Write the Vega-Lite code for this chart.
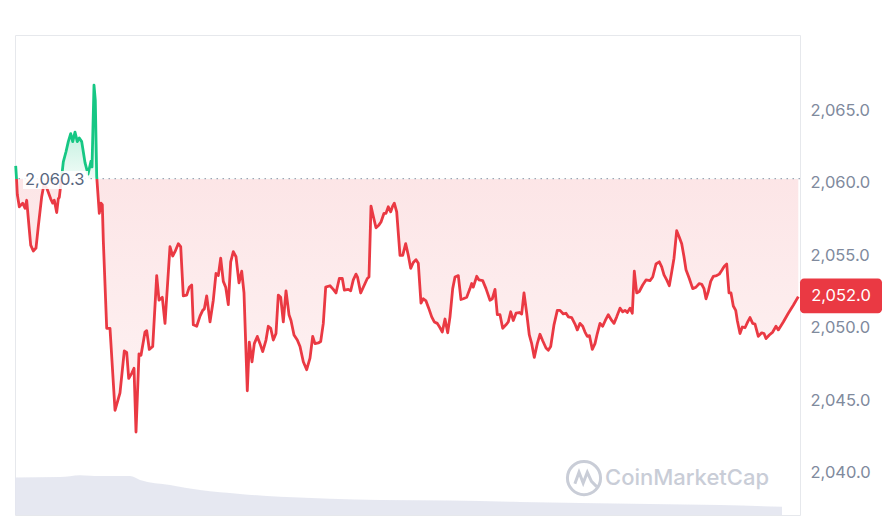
{
  "$schema": "https://vega.github.io/schema/vega-lite/v6.json",
  "width": 785,
  "height": 480,
  "autosize": "none",
  "padding": {"left": 15, "top": 35, "right": 85, "bottom": 1},
  "background": "white",
  "config": {"font": "Inter", "view": {"stroke": "#e6e8ec"}},
  "datasets": {
    "price": [
      {"t":15.7,"p":2061.17},{"t":16.5,"p":2060.3},{"t":17.3,"p":2059.2},{"t":19.3,"p":2058.35},{"t":22.7,"p":2058.6},{"t":25,"p":2058.25},{"t":26.7,"p":2058.8},{"t":29,"p":2057.0},{"t":30.7,"p":2055.7},{"t":33.3,"p":2055.3},{"t":36,"p":2055.5},{"t":38.3,"p":2057.0},{"t":41.7,"p":2059.05},{"t":44,"p":2059.9},{"t":47,"p":2059.6},{"t":50.7,"p":2058.9},{"t":52.7,"p":2058.6},{"t":54.3,"p":2058.8},{"t":56.7,"p":2057.95},{"t":58.3,"p":2058.9},{"t":59.3,"p":2059.0},{"t":61,"p":2060.0},{"t":63.3,"p":2061.45},{"t":66,"p":2062.15},{"t":68.3,"p":2062.85},{"t":70.7,"p":2063.4},{"t":72.7,"p":2062.85},{"t":75,"p":2063.5},{"t":77.3,"p":2062.85},{"t":79.3,"p":2063.1},{"t":81.7,"p":2062.85},{"t":83.3,"p":2062.15},{"t":85,"p":2061.4},{"t":88,"p":2060.6},{"t":91,"p":2061.5},{"t":92,"p":2061.1},{"t":94,"p":2066.75},{"t":95.3,"p":2065.7},{"t":96.7,"p":2060.45},{"t":99.3,"p":2057.9},{"t":101,"p":2058.6},{"t":102.3,"p":2058.5},{"t":103.3,"p":2056.05},{"t":106.7,"p":2049.96},{"t":110,"p":2049.96},{"t":115,"p":2044.3},{"t":120,"p":2045.5},{"t":124.3,"p":2048.4},{"t":126.7,"p":2048.3},{"t":128.7,"p":2046.5},{"t":131.7,"p":2046.85},{"t":134,"p":2047.2},{"t":136,"p":2042.8},{"t":139,"p":2048.2},{"t":141,"p":2048.1},{"t":145,"p":2049.7},{"t":146.7,"p":2049.8},{"t":149.3,"p":2048.5},{"t":152.7,"p":2048.7},{"t":156.7,"p":2053.6},{"t":159,"p":2051.9},{"t":162.3,"p":2052.1},{"t":165,"p":2050.3},{"t":170,"p":2055.6},{"t":172.7,"p":2054.95},{"t":175,"p":2055.25},{"t":178.3,"p":2055.8},{"t":180.7,"p":2055.6},{"t":183.3,"p":2052.2},{"t":186.7,"p":2052.25},{"t":189.3,"p":2052.8},{"t":191.7,"p":2052.95},{"t":193.3,"p":2050.2},{"t":196.7,"p":2050.1},{"t":200,"p":2050.8},{"t":202.7,"p":2051.2},{"t":204.3,"p":2051.3},{"t":206.7,"p":2052.2},{"t":210,"p":2050.4},{"t":213.3,"p":2051.9},{"t":216,"p":2053.75},{"t":218.3,"p":2053.6},{"t":220.7,"p":2054.8},{"t":223.3,"p":2053.2},{"t":225.7,"p":2052.8},{"t":228.3,"p":2051.6},{"t":230.7,"p":2054.55},{"t":233.3,"p":2055.25},{"t":236,"p":2054.9},{"t":239,"p":2053.1},{"t":241.7,"p":2053.9},{"t":244,"p":2052.4},{"t":247.3,"p":2045.65},{"t":249.3,"p":2049.0},{"t":252,"p":2047.65},{"t":254.3,"p":2048.9},{"t":257.3,"p":2049.4},{"t":260,"p":2048.9},{"t":262.7,"p":2048.35},{"t":266,"p":2049.15},{"t":268.3,"p":2050.1},{"t":270.7,"p":2049.96},{"t":273.3,"p":2049.15},{"t":276,"p":2049.6},{"t":278.3,"p":2052.25},{"t":280.7,"p":2052.1},{"t":283.3,"p":2050.4},{"t":286,"p":2052.55},{"t":289,"p":2050.9},{"t":291,"p":2050.5},{"t":294,"p":2049.5},{"t":297.3,"p":2049.15},{"t":300,"p":2048.7},{"t":303.3,"p":2047.65},{"t":306.7,"p":2047.1},{"t":310,"p":2047.9},{"t":312.7,"p":2049.4},{"t":315,"p":2048.9},{"t":318.3,"p":2048.95},{"t":320.7,"p":2049.05},{"t":323.3,"p":2050.3},{"t":325.7,"p":2052.8},{"t":330,"p":2052.9},{"t":333.3,"p":2052.65},{"t":336,"p":2052.4},{"t":339.3,"p":2053.4},{"t":342.3,"p":2053.4},{"t":344.3,"p":2052.6},{"t":348.3,"p":2052.65},{"t":350.7,"p":2052.55},{"t":353.3,"p":2053.3},{"t":356,"p":2053.7},{"t":357.5,"p":2053.5},{"t":360.7,"p":2052.4},{"t":364,"p":2052.9},{"t":367.3,"p":2053.4},{"t":369,"p":2053.5},{"t":371,"p":2058.4},{"t":373.3,"p":2057.7},{"t":376,"p":2056.9},{"t":379,"p":2057.1},{"t":381,"p":2057.3},{"t":384,"p":2057.9},{"t":386,"p":2057.9},{"t":388.3,"p":2058.35},{"t":390.7,"p":2058.0},{"t":392.7,"p":2058.4},{"t":394.3,"p":2058.6},{"t":396.7,"p":2058.0},{"t":400,"p":2055.0},{"t":402.7,"p":2055.0},{"t":405.7,"p":2055.8},{"t":408.3,"p":2055.0},{"t":410.7,"p":2054.1},{"t":413.3,"p":2054.5},{"t":416,"p":2054.7},{"t":418.3,"p":2054.45},{"t":421,"p":2051.7},{"t":423.3,"p":2052.0},{"t":426,"p":2051.85},{"t":428.7,"p":2051.35},{"t":431.7,"p":2050.75},{"t":434.3,"p":2050.4},{"t":437.3,"p":2050.3},{"t":440,"p":2050.0},{"t":442.3,"p":2049.7},{"t":445,"p":2050.6},{"t":447.7,"p":2049.65},{"t":450,"p":2050.75},{"t":452.7,"p":2052.7},{"t":455,"p":2053.5},{"t":458.3,"p":2053.6},{"t":461,"p":2051.95},{"t":463.3,"p":2052.0},{"t":466.7,"p":2052.1},{"t":470,"p":2052.7},{"t":471.7,"p":2053.05},{"t":473.3,"p":2052.8},{"t":476.7,"p":2053.55},{"t":479,"p":2053.3},{"t":482.7,"p":2053.25},{"t":486,"p":2052.7},{"t":490,"p":2051.9},{"t":492.3,"p":2052.0},{"t":495,"p":2052.65},{"t":497.3,"p":2050.9},{"t":500,"p":2050.9},{"t":502.7,"p":2049.96},{"t":506,"p":2050.2},{"t":508.3,"p":2050.4},{"t":510.7,"p":2051.1},{"t":513.3,"p":2050.5},{"t":516,"p":2051.0},{"t":519.3,"p":2051.05},{"t":521.7,"p":2050.95},{"t":524,"p":2052.4},{"t":526.7,"p":2051.0},{"t":529.3,"p":2049.5},{"t":531.7,"p":2048.9},{"t":534.3,"p":2047.95},{"t":537.3,"p":2048.9},{"t":540,"p":2049.55},{"t":542.7,"p":2049.1},{"t":546,"p":2048.6},{"t":548.3,"p":2048.45},{"t":550.7,"p":2048.7},{"t":554,"p":2050.2},{"t":557.3,"p":2051.2},{"t":560,"p":2051.2},{"t":563.3,"p":2050.95},{"t":566,"p":2051.0},{"t":568.3,"p":2050.75},{"t":571.7,"p":2050.7},{"t":575,"p":2050.25},{"t":577.3,"p":2049.85},{"t":580,"p":2050.3},{"t":582.7,"p":2050.1},{"t":585,"p":2049.7},{"t":587.3,"p":2049.4},{"t":589.5,"p":2049.45},{"t":592.3,"p":2048.5},{"t":595,"p":2048.9},{"t":597.3,"p":2049.6},{"t":600,"p":2050.3},{"t":602.7,"p":2050.1},{"t":605.3,"p":2050.5},{"t":608.3,"p":2050.9},{"t":611.7,"p":2050.5},{"t":614,"p":2050.3},{"t":616.7,"p":2050.75},{"t":620,"p":2051.35},{"t":622.7,"p":2051.1},{"t":625,"p":2051.2},{"t":627.3,"p":2051.05},{"t":630,"p":2051.35},{"t":632.3,"p":2051.0},{"t":634.3,"p":2053.9},{"t":636.7,"p":2052.4},{"t":639.3,"p":2052.5},{"t":642.7,"p":2052.95},{"t":646,"p":2053.3},{"t":650,"p":2053.25},{"t":652.7,"p":2053.5},{"t":656,"p":2054.4},{"t":659.3,"p":2054.55},{"t":661.7,"p":2054.2},{"t":664,"p":2053.65},{"t":666.7,"p":2053.3},{"t":669.3,"p":2052.9},{"t":671.7,"p":2053.85},{"t":674,"p":2054.8},{"t":676.7,"p":2056.7},{"t":679.3,"p":2056.25},{"t":681.7,"p":2055.8},{"t":684,"p":2054.9},{"t":686,"p":2054.0},{"t":689.3,"p":2053.4},{"t":692.7,"p":2052.7},{"t":696,"p":2052.8},{"t":699.3,"p":2053.05},{"t":701.7,"p":2053.0},{"t":704,"p":2052.7},{"t":706,"p":2052.0},{"t":708.3,"p":2052.5},{"t":710.7,"p":2053.2},{"t":713.3,"p":2053.55},{"t":716.7,"p":2053.6},{"t":719.3,"p":2053.7},{"t":721.7,"p":2053.95},{"t":724.3,"p":2054.25},{"t":726.7,"p":2054.4},{"t":729,"p":2052.4},{"t":731,"p":2052.4},{"t":733.3,"p":2051.5},{"t":735.7,"p":2051.2},{"t":737.3,"p":2050.5},{"t":740,"p":2049.6},{"t":742.3,"p":2050.05},{"t":745,"p":2050.0},{"t":747.7,"p":2050.4},{"t":750,"p":2050.7},{"t":752.7,"p":2050.3},{"t":755,"p":2050.25},{"t":758.3,"p":2049.4},{"t":761.7,"p":2049.65},{"t":764,"p":2049.6},{"t":766,"p":2049.25},{"t":769.3,"p":2049.5},{"t":772.7,"p":2049.7},{"t":776,"p":2050.1},{"t":778.3,"p":2049.85},{"t":783.3,"p":2050.4},{"t":788.3,"p":2051.0},{"t":793.3,"p":2051.55},{"t":798.3,"p":2052.15}
    ],
    "volume": [
      {"t":15,"v":7.8},{"t":60,"v":7.9},{"t":80,"v":8.3},{"t":100,"v":8.1},{"t":130,"v":8.1},{"t":140,"v":7.3},{"t":170,"v":6.25},{"t":200,"v":5.2},{"t":240,"v":4.4},{"t":280,"v":3.8},{"t":330,"v":3.4},{"t":380,"v":3.1},{"t":450,"v":3.0},{"t":520,"v":2.7},{"t":580,"v":2.5},{"t":650,"v":2.3},{"t":720,"v":2.1},{"t":782,"v":1.7}
    ],
    "one": [{}]
  },
  "layer": [
    {
      "data": {"name": "volume"},
      "mark": {"type": "area", "interpolate": "monotone", "color": "#e3e6ef", "opacity": 0.9},
      "encoding": {
        "x": {"field": "t", "type": "quantitative", "scale": {"domain": [15, 800], "nice": false, "zero": false}, "axis": null},
        "y": {"field": "v", "type": "quantitative", "scale": {"domain": [0, 100], "nice": false}, "axis": null}
      }
    },
    {
      "layer": [
        {
          "data": {"name": "price"},
          "mark": {
            "type": "area",
            "interpolate": "linear",
            "fill": {"gradient": "linear", "x1": 0, "y1": 0, "x2": 0, "y2": 1, "stops": [
              {"offset": 0, "color": "rgba(22,199,132,0.45)"},
              {"offset": 0.2693, "color": "rgba(22,199,132,0.06)"},
              {"offset": 0.2693, "color": "rgba(234,57,67,0.13)"},
              {"offset": 1, "color": "rgba(234,57,67,0.06)"}
            ]}
          },
          "encoding": {
            "x": {"field": "t", "type": "quantitative", "scale": {"domain": [15, 800], "nice": false, "zero": false}, "axis": null},
            "y": {
              "field": "p", "type": "quantitative",
              "scale": {"domain": [2037.07, 2070.21], "nice": false, "zero": false},
              "axis": {
                "orient": "right", "values": [2040, 2045, 2050, 2055, 2060, 2065], "format": ",.1f",
                "title": null, "ticks": false, "domain": false, "labelPadding": 10,
                "labelFontSize": 16.5, "labelColor": "#808a9d", "labelFont": "Inter",
                "gridColor": "#eef0f3", "gridWidth": 1
              }
            },
            "y2": {"datum": 2060.3}
          }
        },
        {
          "data": {"name": "one"},
          "mark": {"type": "rule", "strokeDash": [1.5, 4.5], "strokeWidth": 1.2, "color": "#9ea6b5"},
          "encoding": {"y": {"datum": 2060.3}}
        },
        {
          "data": {"name": "price"},
          "mark": {
            "type": "line",
            "interpolate": "linear",
            "strokeWidth": 2.8,
            "strokeJoin": "round",
            "stroke": {"gradient": "linear", "x1": 0, "y1": 0, "x2": 0, "y2": 1, "stops": [
              {"offset": 0, "color": "#16c784"},
              {"offset": 0.2693, "color": "#16c784"},
              {"offset": 0.2693, "color": "#ea3943"},
              {"offset": 1, "color": "#ea3943"}
            ]}
          },
          "encoding": {
            "x": {"field": "t", "type": "quantitative"},
            "y": {"field": "p", "type": "quantitative"}
          }
        },
        {
          "data": {"name": "one"},
          "mark": {"type": "rect", "color": "white", "opacity": 0.88},
          "encoding": {
            "x": {"datum": 23}, "x2": {"datum": 88},
            "y": {"datum": 2060.82}, "y2": {"datum": 2059.58}
          }
        },
        {
          "data": {"name": "one"},
          "mark": {"type": "text", "text": "2,060.3", "align": "left", "baseline": "middle", "fontSize": 16.5, "color": "#58667e", "font": "Inter"},
          "encoding": {"x": {"datum": 25}, "y": {"datum": 2060.2}}
        },
        {
          "data": {"name": "one"},
          "mark": {"type": "point", "filled": false, "strokeWidth": 3, "color": "#c9cdd7", "opacity": 1,
            "shape": "M 0 -1 A 1 1 0 1 1 0 1 A 1 1 0 1 1 0 -1 M -0.55 0.35 L -0.3 -0.35 L -0.05 0.3 L 0.2 -0.35 L 0.45 0.2 L 0.75 0.5", "size": 1100, "clip": false},
          "encoding": {"x": {"datum": 584}, "y": {"datum": 2039.62}}
        },
        {
          "data": {"name": "one"},
          "mark": {"type": "text", "text": "CoinMarketCap", "align": "left", "baseline": "middle", "fontSize": 22, "fontWeight": 500, "color": "#c9cdd7", "font": "Inter"},
          "encoding": {"x": {"datum": 605}, "y": {"datum": 2039.62}}
        },
        {
          "data": {"name": "one"},
          "mark": {"type": "rect", "color": "#ea3943", "cornerRadius": 4, "clip": false},
          "encoding": {
            "x": {"datum": 800}, "x2": {"datum": 882},
            "y": {"datum": 2053.4}, "y2": {"datum": 2051.0}
          }
        },
        {
          "data": {"name": "one"},
          "mark": {"type": "text", "text": "2,052.0", "align": "center", "baseline": "middle", "fontSize": 16.5, "color": "white", "font": "Inter", "clip": false},
          "encoding": {"x": {"datum": 841}, "y": {"datum": 2052.19}}
        }
      ]
    }
  ],
  "resolve": {"scale": {"y": "independent"}}
}
